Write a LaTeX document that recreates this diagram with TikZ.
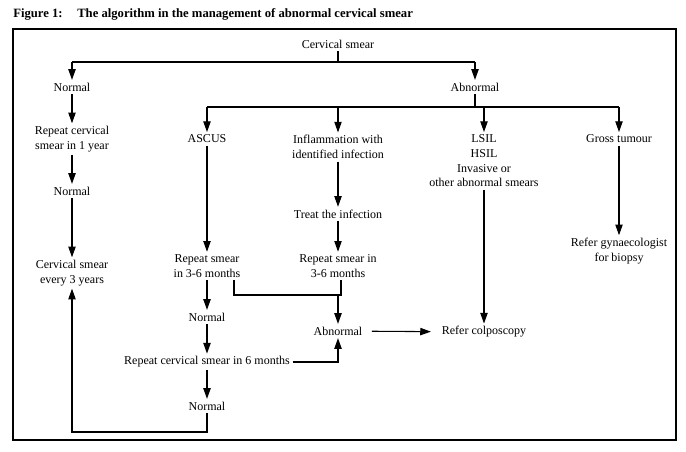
\documentclass[tikz,border=0pt]{standalone}
\usepackage{fontspec}
\setmainfont{Liberation Serif}
\usetikzlibrary{arrows.meta}
\begin{document}
\begin{tikzpicture}[x=0.75pt,y=-0.75pt,
  lbl/.style={inner sep=2pt, align=center, font=\fontsize{9}{11}\selectfont},
  ttl/.style={anchor=base west, inner sep=0pt, font=\fontsize{9.5}{11}\selectfont\bfseries},
  ln/.style={line width=0.8pt},
  arr/.style={ln, -{Triangle[length=8pt,width=5.5pt]}}]
\useasboundingbox (0,0) rectangle (686,451);
\node[ttl] (fig) at (13,17.5) {Figure 1:};
\node[ttl] (title) at (77,17.5) {The algorithm in the management of abnormal cervical smear};
\draw[ln] (13,29) rectangle (676,440);
% nodes
\node[lbl] (cs) at (338,44) {Cervical smear};
\node[lbl] (n1) at (72,87) {Normal};
\node[lbl] (ab) at (475,87) {Abnormal};
\node[lbl] (rep1) at (72,139) {Repeat cervical\\smear in 1 year};
\node[lbl] (n2) at (72,191) {Normal};
\node[lbl] (ev3) at (72,273) {Cervical smear\\every 3 years};
\node[lbl] (ascus) at (207,139) {ASCUS};
\node[lbl] (infl) at (338,147) {Inflammation with\\identified infection};
\node[lbl] (lsil) at (484,161) {LSIL\\HSIL\\Invasive or\\other abnormal smears};
\node[lbl] (gross) at (619,139) {Gross tumour};
\node[lbl] (treat) at (338,214) {Treat the infection};
\node[lbl] (rsA) at (207,266) {Repeat smear\\in 3-6 months};
\node[lbl] (rsI) at (338,266) {Repeat smear in\\3-6 months};
\node[lbl] (gyn) at (619,251) {Refer gynaecologist\\for biopsy};
\node[lbl] (nA) at (207,317) {Normal};
\node[lbl] (abn2) at (338,331) {Abnormal};
\node[lbl] (col) at (484,332) {Refer colposcopy};
\node[lbl] (rep6) at (207,362) {Repeat cervical smear in 6 months};
\node[lbl] (nB) at (207,406) {Normal};
% bus coordinates
\coordinate (b1m) at (338,62);
\coordinate (b1l) at (72,62);
\coordinate (b1r) at (475,62);
\coordinate (b2m) at (475,107);
\coordinate (b2a) at (207,107);
\coordinate (b2b) at (338,107);
\coordinate (b2c) at (484,107);
\coordinate (b2d) at (619,107);
\coordinate (jl) at (234,295);
\coordinate (jr) at (341,295);
\coordinate (jm) at (338,295);
\coordinate (bl) at (72,432);
\coordinate (br) at (207,432);
% connectors
\draw[ln] (cs) -- (b1m);
\draw[ln] (b1l) -- (b1r);
\draw[arr] (b1l) -- (n1);
\draw[arr] (b1r) -- (ab);
\draw[ln] (ab) -- (b2m);
\draw[ln] (b2a) -- (b2d);
\draw[arr] (b2a) -- (ascus);
\draw[arr] (b2b) -- (infl);
\draw[arr] (b2c) -- (lsil);
\draw[arr] (b2d) -- (gross);
\draw[arr] (n1) -- (rep1);
\draw[arr] (rep1) -- (n2);
\draw[arr] (n2) -- (ev3);
\draw[arr] (ascus) -- (rsA);
\draw[arr] (infl) -- (treat);
\draw[arr] (treat) -- (rsI);
\draw[arr] (lsil) -- (col);
\draw[arr] (gross) -- (gyn);
\draw[arr] (rsA) -- (nA);
\draw[ln] (rsA.south -| jl) -- (jl) -- (jr) -- (rsI.south -| jr);
\draw[arr] (jm) -- (abn2);
\draw[arr] (nA) -- (rep6);
\draw[arr] (rep6) -- (nB);
\draw[arr] (rep6.east) -- (rep6.east -| abn2) -- (abn2);
\draw[arr, shorten <=5pt, shorten >=6pt] (abn2) -- (col);
\draw[arr] (nB) -- (br) -- (bl) -- (ev3);
\end{tikzpicture}
\end{document}
